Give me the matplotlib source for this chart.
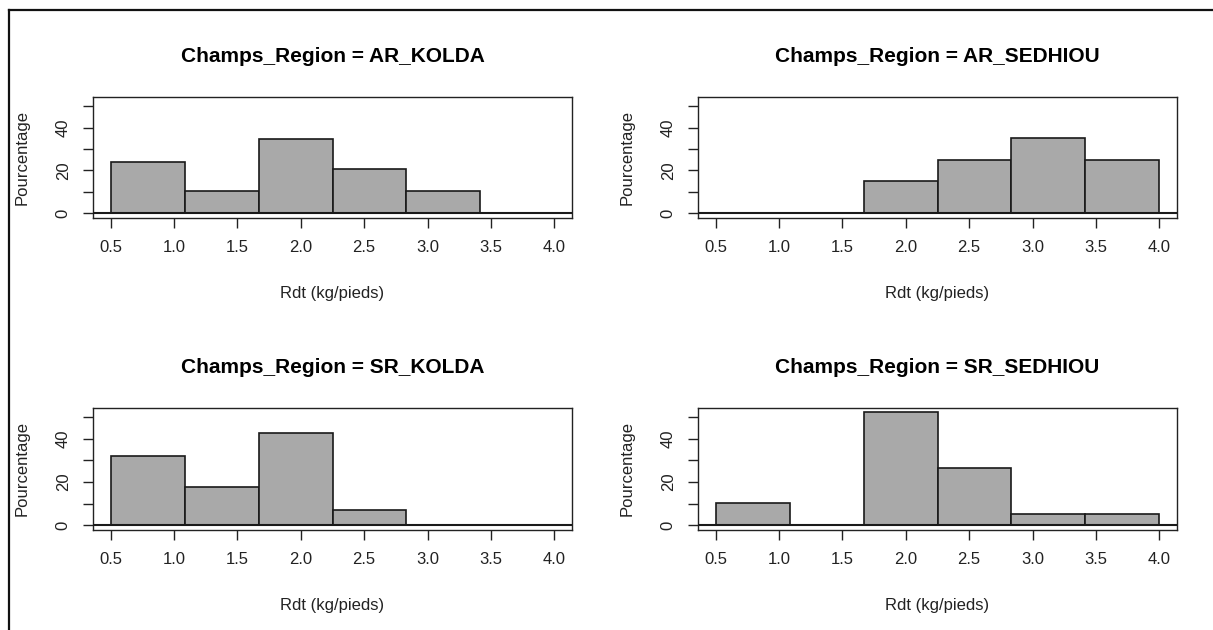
import numpy as np
import matplotlib
matplotlib.use('Agg')
from matplotlib import pyplot as plt
from matplotlib.lines import Line2D

plt.rcParams['font.family'] = ['Liberation Sans', 'DejaVu Sans']

# bin edges of the histograms (kg/pieds)
bin_edges = [0.5, 1.0833, 1.6667, 2.25, 2.8333, 3.4167, 4.0]

regions = ['AR_KOLDA', 'AR_SEDHIOU', 'SR_KOLDA', 'SR_SEDHIOU']

# percentages per bin
pct_ar_kolda = [24.1, 10.3, 34.5, 20.7, 10.3, 0.0]
pct_ar_sedhiou = [0.0, 0.0, 15.0, 25.0, 35.0, 25.0]
pct_sr_kolda = [32.1, 17.9, 42.9, 7.1, 0.0, 0.0]
pct_sr_sedhiou = [10.5, 0.0, 52.6, 26.3, 5.3, 5.3]

x_ticks = [0.5, 1.0, 1.5, 2.0, 2.5, 3.0, 3.5, 4.0]
y_ticks = [0, 10, 20, 30, 40, 50]
y_labels = ['0', '', '20', '', '40', '']

W, H = 1213, 630
fig = plt.figure(figsize=(W / 100, H / 100), dpi=100)

# panel boxes in pixels: left, top, right, bottom
boxes = [(93, 97, 572, 218), (698, 97, 1177, 218),
         (93, 408, 572, 530), (698, 408, 1177, 530)]
values = [pct_ar_kolda, pct_ar_sedhiou, pct_sr_kolda, pct_sr_sedhiou]

left_edges = np.array(bin_edges[:-1])
widths = np.diff(bin_edges)
txt = '#222222'

for (l, t, r, b), region, vals in zip(boxes, regions, values):
    ax = fig.add_axes([l / W, (H - b) / H, (r - l) / W, (b - t) / H])
    ax.bar(left_edges, vals, width=widths, align='edge', color='#a9a9a9',
           edgecolor='#1a1a1a', linewidth=1.2, zorder=2)
    ax.axhline(0, color='#1a1a1a', linewidth=1.5, zorder=3)
    ax.set_xlim(0.36, 4.14)
    ax.set_ylim(-2.2, 54.3)
    ax.set_xticks(x_ticks)
    ax.set_xticklabels([f'{v:.1f}' for v in x_ticks])
    ax.set_yticks(y_ticks)
    ax.set_yticklabels(y_labels, rotation=90, va='center')
    ax.tick_params(axis='both', length=7, width=1.0, color=txt,
                   labelsize=12, labelcolor=txt)
    ax.tick_params(axis='x', pad=8.5)
    ax.tick_params(axis='y', pad=9)
    for s in ax.spines.values():
        s.set_linewidth(1.0)
        s.set_color(txt)
    ax.set_xlabel('Rdt (kg/pieds)', fontsize=12, labelpad=23, color=txt)
    ax.set_ylabel('Pourcentage', fontsize=12, labelpad=19, color=txt)
    ax.set_title(f'Champs_Region = {region}', fontsize=15, fontweight='bold',
                 pad=25)

# outer frame (left and top edges only)
fig.add_artist(Line2D([9 / W, 9 / W], [0, (H - 10) / H], transform=fig.transFigure,
                      color='#111111', linewidth=1.6))
fig.add_artist(Line2D([9 / W, 1], [(H - 10) / H, (H - 10) / H], transform=fig.transFigure,
                      color='#111111', linewidth=1.6))

fig.savefig('out.png', dpi=100)
